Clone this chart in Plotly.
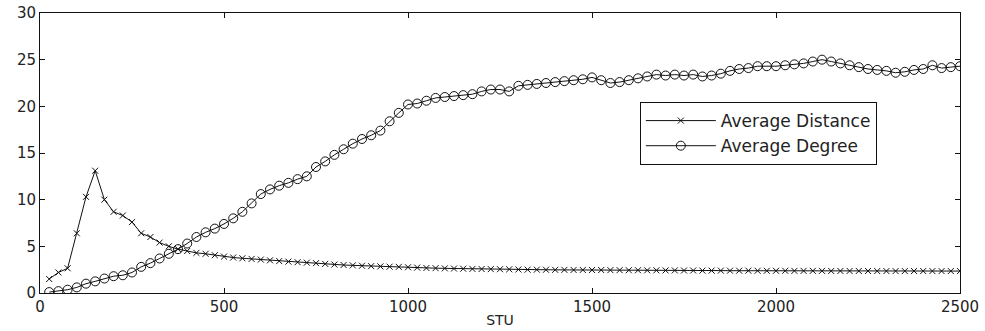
import plotly.graph_objects as go

stu = list(range(25, 2501, 25))

avg_distance = [
    1.5, 2.2, 2.65, 6.4, 10.3, 13.1, 10.0, 8.7, 8.3, 7.6,
    6.4, 6.0, 5.4, 5.0, 4.7, 4.5, 4.3, 4.2, 4.05, 3.9,
    3.8, 3.72, 3.65, 3.58, 3.5, 3.42, 3.36, 3.3, 3.25, 3.2,
    3.12, 3.05, 3.0, 2.96, 2.92, 2.88, 2.85, 2.82, 2.8, 2.76,
    2.72, 2.68, 2.66, 2.64, 2.62, 2.6, 2.58, 2.57, 2.56, 2.55,
    2.54, 2.52, 2.5, 2.5, 2.49, 2.48, 2.48, 2.47, 2.47, 2.46,
    2.46, 2.45, 2.45, 2.44, 2.44, 2.43, 2.43, 2.42, 2.42, 2.41,
    2.41, 2.4, 2.4, 2.4, 2.39, 2.39, 2.39, 2.38, 2.38, 2.38,
    2.38, 2.37, 2.37, 2.37, 2.37, 2.36, 2.36, 2.36, 2.36, 2.36,
    2.35, 2.35, 2.35, 2.35, 2.35, 2.35, 2.35, 2.35, 2.35, 2.35,
]

avg_degree = [
    0.1, 0.2, 0.35, 0.6, 1.0, 1.25, 1.55, 1.8, 1.9, 2.2,
    2.8, 3.2, 3.7, 4.2, 4.7, 5.3, 6.0, 6.5, 6.9, 7.4,
    8.0, 8.7, 9.6, 10.6, 11.1, 11.5, 11.8, 12.2, 12.5, 13.5,
    14.1, 14.8, 15.4, 16.0, 16.5, 16.9, 17.4, 18.4, 19.3, 20.2,
    20.3, 20.6, 20.9, 21.0, 21.1, 21.2, 21.3, 21.6, 21.8, 21.8,
    21.6, 22.2, 22.3, 22.4, 22.5, 22.6, 22.7, 22.8, 22.9, 23.1,
    22.8, 22.5, 22.6, 22.8, 23.0, 23.2, 23.4, 23.3, 23.4, 23.3,
    23.4, 23.2, 23.3, 23.5, 23.8, 24.0, 24.1, 24.3, 24.3, 24.3,
    24.4, 24.5, 24.6, 24.8, 25.0, 24.8, 24.6, 24.4, 24.2, 24.0,
    23.9, 23.8, 23.6, 23.7, 23.9, 24.0, 24.4, 24.1, 24.2, 24.3,
]

x_ticks = [0, 500, 1000, 1500, 2000, 2500]
y_ticks = [0, 5, 10, 15, 20, 25, 30]

font_family = "DejaVu Sans"
ink = "#111111"
text_color = "#222222"

fig = go.Figure()
fig.add_trace(go.Scatter(
    x=stu, y=avg_distance, name="Average Distance", mode="lines+markers",
    line=dict(color=ink, width=1),
    marker=dict(symbol="x-thin", size=6, line=dict(color=ink, width=1)),
))
fig.add_trace(go.Scatter(
    x=stu, y=avg_degree, name="Average Degree", mode="lines+markers",
    line=dict(color=ink, width=1),
    marker=dict(symbol="circle-open", size=9, color=ink, line=dict(color=ink, width=1)),
))

axis_common = dict(
    showgrid=False, zeroline=False, showline=True, linecolor=ink, linewidth=1,
    mirror="ticks", ticks="inside", ticklen=5, tickcolor=ink, tickwidth=1,
    tickfont=dict(family=font_family, size=15, color=text_color),
    automargin=False,
)

fig.update_layout(
    width=985, height=331,
    margin=dict(l=40, r=25, t=13, b=38),
    paper_bgcolor="white", plot_bgcolor="white",
    font=dict(family=font_family, color=text_color),
    xaxis=dict(range=[0, 2500], tickvals=x_ticks, ticktext=[str(v) for v in x_ticks],
               title=dict(text="STU", font=dict(family=font_family, size=14, color=text_color), standoff=0),
               **axis_common),
    yaxis=dict(range=[0, 30], tickvals=y_ticks, ticktext=[str(v) for v in y_ticks], **axis_common),
    legend=dict(
        x=0.652, y=0.682, xanchor="left", yanchor="top",
        bordercolor=ink, borderwidth=1, bgcolor="white",
        font=dict(family=font_family, size=17, color=text_color),
        itemwidth=70, tracegroupgap=0,
        entrywidth=255, entrywidthmode="pixels",
    ),
    showlegend=True,
)

fig.write_html("out.html")
